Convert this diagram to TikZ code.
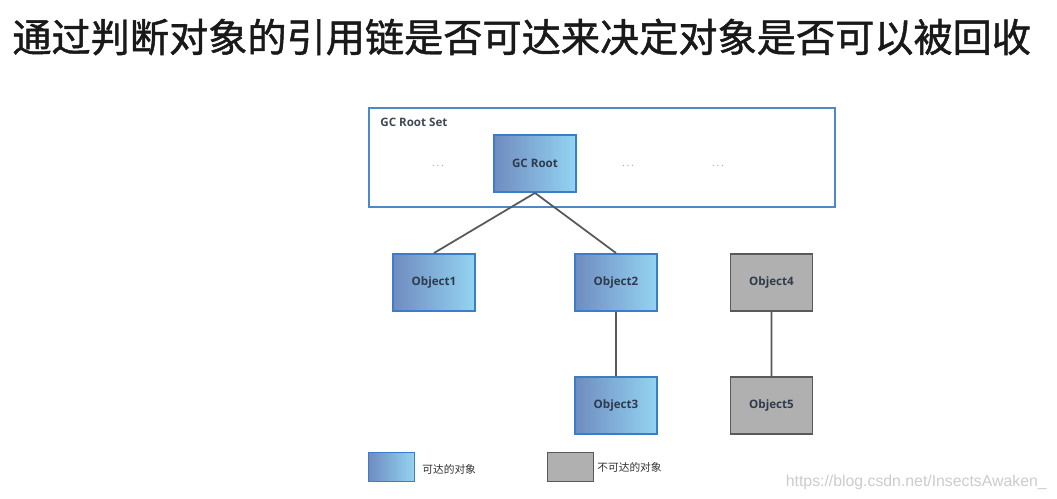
\documentclass[tikz,border=0pt]{standalone}
\usepackage{fontspec}
\setmainfont{Open Sans}
\newfontfamily\cjk{Noto Sans CJK SC}
\newfontfamily\cjkheavy{Noto Sans CJK SC}[FakeBold=1.2]
\newfontfamily\wmfont{Liberation Sans}
\definecolor{liveedge}{HTML}{3D7CC9}
\definecolor{livedark}{HTML}{6F8CC0}
\definecolor{livelight}{HTML}{94D4F2}
\definecolor{deadfill}{HTML}{B0B0B0}
\definecolor{deadedge}{HTML}{5A5A5A}
\definecolor{setedge}{HTML}{4F88C6}
\definecolor{linkgray}{HTML}{595959}
\definecolor{objtext}{HTML}{2F3B4C}

\begin{document}
\begin{tikzpicture}[x=0.02cm,y=-0.02cm,
  box/.style={line width=1.1pt,inner sep=0pt,minimum width=1.64cm,minimum height=1.14cm,
    font=\bfseries\fontsize{6.6}{8}\selectfont,text=objtext},
  live/.style={box,draw=liveedge,left color=livedark,right color=livelight},
  dead/.style={box,draw=deadedge,fill=deadfill},
  link/.style={draw=linkgray,line width=1pt},
  keytext/.style={anchor=west,inner sep=0pt,font=\cjk\fontsize{6.1}{7}\selectfont,text=black!80},
  dots/.style={text=gray!70,font=\fontsize{6}{7}\selectfont}]
\useasboundingbox[fill=white](0,0) rectangle (1057,499);

\node[anchor=west,inner sep=0pt,text=black!90,font=\cjkheavy\fontsize{22.3}{26}\selectfont] (title) at (12,37)
  {通过判断对象的引用链是否可达来决定对象是否可以被回收};

% GC root set
\node[draw=setedge,line width=1pt,minimum width=9.32cm,minimum height=1.98cm] (rootset) at (602,157.5) {};
\node[anchor=west,inner sep=0pt,font=\bfseries\fontsize{6.6}{8}\selectfont,text=objtext!80!gray] (setlabel) at (380,122) {GC Root Set};
\node[live] (root) at (535,163.5) {GC Root};
\node[dots] (dotsA) at (438,166) {.\,.\,.};
\node[dots] (dotsB) at (628,166) {.\,.\,.};
\node[dots] (dotsC) at (718,166) {.\,.\,.};

% objects
\node[live] (obj1) at (434,282.5) {Object1};
\node[live] (obj2) at (616,282.5) {Object2};
\node[live] (obj3) at (616,405.5) {Object3};
\node[dead] (obj4) at (771.5,282.5) {Object4};
\node[dead] (obj5) at (771.5,405.5) {Object5};

\draw[link](root.south)--(obj1.north)(root.south)--(obj2.north)
  (obj2.south)--(obj3.north)(obj4.south)--(obj5.north);

% legend
\node[live,minimum width=0.92cm,minimum height=0.58cm] (keylive) at (391.5,467) {};
\node[dead,minimum width=0.92cm,minimum height=0.58cm] (keydead) at (570.5,467) {};
\node[keytext] (keylivetext) at (422,469) {可达的对象};
\node[keytext] (keydeadtext) at (597,467) {不可达的对象};

\node[anchor=east,inner sep=0pt,text=gray!40,font=\wmfont\fontsize{9}{11}\selectfont] (mark) at (1047,482)
  {https://blog.csdn.net/InsectsAwaken\_};
\end{tikzpicture}
\end{document}
